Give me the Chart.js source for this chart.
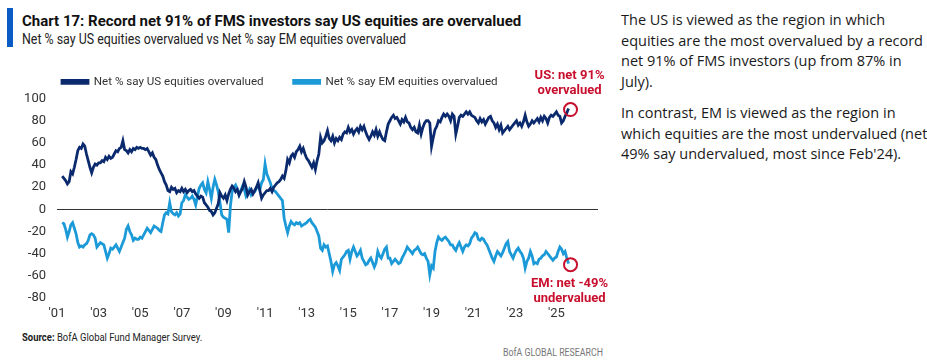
<!DOCTYPE html>
<html>
<head>
<meta charset="utf-8">
<script src="https://cdn.jsdelivr.net/npm/chart.js@4/dist/chart.umd.min.js"></script>
<style>
  body { margin: 0; background: #fff; width: 927px; height: 364px; position: relative; overflow: hidden; font-family: Roboto, sans-serif; }
  .bar { position: absolute; left: 7px; top: 8px; width: 6px; height: 39px; background: #0a5bc4; }
  .title { position: absolute; left: 22px; top: 12px; font-weight: bold; font-size: 15px; color: #111; white-space: nowrap; }
  .subtitle { position: absolute; left: 22px; top: 31px; font-size: 14px; color: #222; white-space: nowrap; transform: scaleX(0.885); transform-origin: left top; }
  .source { position: absolute; left: 22px; top: 331px; font-size: 11px; color: #222; white-space: nowrap; transform: scaleX(0.86); transform-origin: left top; }
  .brand { position: absolute; left: 503px; top: 346px; font-size: 11px; color: #777; white-space: nowrap; transform: scaleX(0.8); transform-origin: left top; }
  .side { position: absolute; left: 621px; top: 10px; font-family: "Open Sans", sans-serif; font-size: 14.5px; line-height: 20.5px; color: #1a1a1a; white-space: nowrap; }
  .side p { margin: 0 0 11px 0; }
  #wrap { position: absolute; left: 0; top: 47px; width: 610px; height: 281px; }
</style>
</head>
<body>
<div class="bar"></div>
<div class="title">Chart 17: Record net 91% of FMS investors say US equities are overvalued</div>
<div class="subtitle">Net % say US equities overvalued vs Net % say EM equities overvalued</div>
<div id="wrap"><canvas id="chart"></canvas></div>
<div class="source"><b>Source:</b> BofA Global Fund Manager Survey.</div>
<div class="brand">BofA GLOBAL RESEARCH</div>
<div class="side">
  <p>The US is viewed as the region in which<br>equities are the most overvalued by a record<br>net 91% of FMS investors (up from 87% in<br>July).</p>
  <p>In contrast, EM is viewed as the region in<br>which equities are the most undervalued (net<br>49% say undervalued, most since Feb'24).</p>
</div>
<script>
// monthly survey, Apr 2001 - Aug 2025
const startYear = 2001;
const startMonth = 4;

const seriesNames = ['Net % say US equities overvalued', 'Net % say EM equities overvalued'];

const usData = [
    30, 28, 26, 23, 25, 34, 32, 38, 45,
    53, 56, 55, 59, 57, 50, 44, 38, 33, 38, 41, 40,
    42, 42, 44, 43, 47, 45, 48, 46, 47, 50, 53, 52,
    55, 56, 62, 54, 53, 51, 54, 52, 55, 54, 56, 55,
    56, 55, 55, 54, 55, 52, 49, 51, 47, 45, 40, 36,
    33, 30, 25, 22, 17, 16, 20, 18, 19, 15, 17, 16,
    19, 16, 18, 15, 17, 18, 16, 17, 14, 12, 10, 12,
    11, 6, 4, 2, -1, -2, -5, -3, 1, 5, 15, 12,
    10, 13, 8, 14, 18, 21, 19, 16, 18, 13, 16, 19,
    25, 20, 13, 16, 18, 14, 17, 20, 24, 17, 10, 13,
    15, 17, 17, 19, 16, 20, 22, 24, 25, 27, 30, 28,
    35, 45, 42, 48, 50, 47, 52, 54, 57, 52, 55, 50,
    46, 44, 41, 38, 42, 36, 44, 50, 65, 60, 62, 66,
    71, 64, 62, 66, 60, 64, 62, 65, 63, 68, 70, 69,
    74, 70, 72, 68, 71, 73, 70, 75, 72, 75, 70, 66,
    63, 66, 70, 67, 72, 66, 70, 66, 63, 62, 70, 77,
    80, 83, 85, 82, 83, 80, 77, 81, 79, 83, 79, 78,
    74, 72, 74, 70, 69, 76, 68, 74, 78, 80, 80, 78,
    57, 65, 72, 75, 80, 79, 83, 86, 84, 86, 84, 80,
    86, 84, 68, 75, 83, 85, 84, 86, 88, 86, 88, 85,
    84, 83, 80, 78, 82, 79, 81, 77, 80, 83, 84, 80,
    78, 74, 77, 72, 76, 69, 71, 73, 75, 72, 74, 76,
    78, 80, 76, 78, 75, 79, 85, 79, 75, 77, 80, 78,
    80, 82, 79, 83, 80, 84, 82, 78, 83, 85, 84, 86,
    88, 85, 84, 78, 80, 84, 87, 91
];

const emData = [
    -12, -13, -18, -25, -20, -14, -12, -17, -22,
    -30, -34, -33, -34, -32, -31, -28, -23, -22, -23, -26, -34,
    -32, -30, -31, -32, -38, -44, -40, -35, -36, -34, -32, -35,
    -38, -34, -30, -26, -18, -15, -20, -23, -28, -26, -27, -27,
    -25, -26, -23, -20, -17, -19, -21, -18, -15, -16, -17, -19,
    -20, -12, -5, -3, -4, 6, -2, -4, -5, -3, -6, -4,
    6, 8, 13, 11, 9, 10, 12, 9, 4, 12, 19, 22,
    24, 18, 15, 25, 18, 10, 20, 27, 22, 16, 6, -5,
    -7, -8, -9, -21, 3, 16, 20, 22, 18, 13, 17, 21,
    18, 12, 15, 18, 13, 15, 16, 19, 21, 18, 24, 27,
    41, 32, 28, 24, 19, 17, 16, 14, 12, 10, 8, -8,
    -15, -21, -15, -11, -13, -14, -12, -13, -12, -15, -14, -13,
    -12, -10, -9, -12, -14, -16, -20, -24, -35, -37, -32, -34,
    -33, -40, -47, -56, -50, -48, -51, -55, -45, -43, -41, -38,
    -37, -45, -38, -34, -38, -42, -40, -37, -44, -47, -50, -49,
    -46, -44, -48, -52, -48, -38, -42, -44, -40, -36, -34, -44,
    -44, -49, -47, -45, -47, -49, -48, -44, -41, -38, -34, -36,
    -38, -40, -37, -36, -34, -37, -40, -41, -40, -44, -47, -59,
    -51, -53, -38, -30, -25, -27, -28, -26, -25, -27, -29, -32,
    -32, -35, -37, -33, -30, -34, -38, -34, -32, -33, -31, -26,
    -24, -21, -22, -27, -28, -26, -27, -30, -32, -36, -40, -44,
    -47, -42, -38, -40, -42, -39, -35, -31, -29, -38, -41, -44,
    -40, -37, -35, -38, -40, -44, -53, -47, -44, -38, -42, -49,
    -48, -49, -45, -44, -42, -41, -38, -40, -42, -44, -46, -44,
    -43, -38, -34, -36, -40, -38, -44, -49
];

const callouts = [
    ['US: net 91%', 'overvalued'],
    ['EM: net -49%', 'undervalued']
];

// x = decimal year of each month
function toPoints(values) {
    return values.map((v, i) => ({ x: startYear + (startMonth - 1 + i) / 12, y: v }));
}

const NAVY = '#0b2a6e';
const CYAN = '#1c9ad8';
const RED = '#c8102e';
const FONT = 'Roboto, sans-serif';

// legend sits a bit right of the y labels
const legendShift = {
    id: 'legendShift',
    afterLayout(chart) {
        chart.legend.left += 21;
        chart.legend.top -= 1;
    }
};

// red rings and labels at the latest reading
const calloutPlugin = {
    id: 'callouts',
    afterDatasetsDraw(chart) {
        const ctx = chart.ctx;
        ctx.save();
        chart.data.datasets.forEach((ds, i) => {
            const pts = chart.getDatasetMeta(i).data;
            const p = pts[pts.length - 1];
            ctx.strokeStyle = RED;
            ctx.lineWidth = 2;
            ctx.beginPath();
            ctx.arc(p.x + 2, p.y + 1, 6.5, 0, Math.PI * 2);
            ctx.stroke();
            ctx.fillStyle = RED;
            ctx.font = 'bold 13px ' + FONT;
            ctx.textAlign = 'center';
            ctx.textBaseline = 'middle';
            const lines = callouts[i];
            const y0 = i === 0 ? p.y - 33 : p.y + 20;
            ctx.fillText(lines[0], p.x + 1, y0);
            ctx.fillText(lines[1], p.x + 1, y0 + 15);
        });
        ctx.restore();
    }
};

const chart = new Chart(document.getElementById('chart'), {
    type: 'line',
    data: {
        datasets: [{
            label: seriesNames[0],
            data: toPoints(usData),
            borderColor: NAVY,
            backgroundColor: NAVY,
            borderWidth: 2.8,
            pointRadius: 0,
            tension: 0
        }, {
            label: seriesNames[1],
            data: toPoints(emData),
            borderColor: CYAN,
            backgroundColor: CYAN,
            borderWidth: 2.8,
            pointRadius: 0,
            tension: 0
        }]
    },
    options: {
        responsive: true,
        maintainAspectRatio: false,
        animation: false,
        layout: { padding: { left: 11, right: 12, top: 0, bottom: 0 } },
        plugins: {
            legend: {
                position: 'top',
                align: 'start',
                labels: {
                    boxWidth: 26,
                    boxHeight: 3,
                    padding: 30,
                    color: '#333',
                    font: { family: FONT, size: 11.6 }
                }
            },
            tooltip: { enabled: false }
        },
        scales: {
            x: {
                type: 'linear',
                min: 2001,
                max: 2027,
                border: { display: false },
                grid: { display: false, drawTicks: false },
                ticks: {
                    stepSize: 2,
                    padding: 8,
                    color: '#333',
                    maxRotation: 0,
                    font: { family: FONT, size: 13 },
                    callback: v => v > 2025 ? '' : "'" + String(v).slice(2)
                },
                afterFit: s => { s.height = 30; }
            },
            y: {
                min: -80,
                max: 100,
                border: { display: false },
                grid: {
                    drawTicks: false,
                    lineWidth: 1,
                    color: c => c.tick.value === 0 ? '#333' : 'rgba(0,0,0,0)'
                },
                ticks: {
                    stepSize: 20,
                    padding: 11,
                    color: '#333',
                    font: { family: FONT, size: 13 }
                },
                afterFit: s => { s.width = 46; }
            }
        }
    },
    plugins: [legendShift, calloutPlugin]
});
</script>
</body>
</html>
